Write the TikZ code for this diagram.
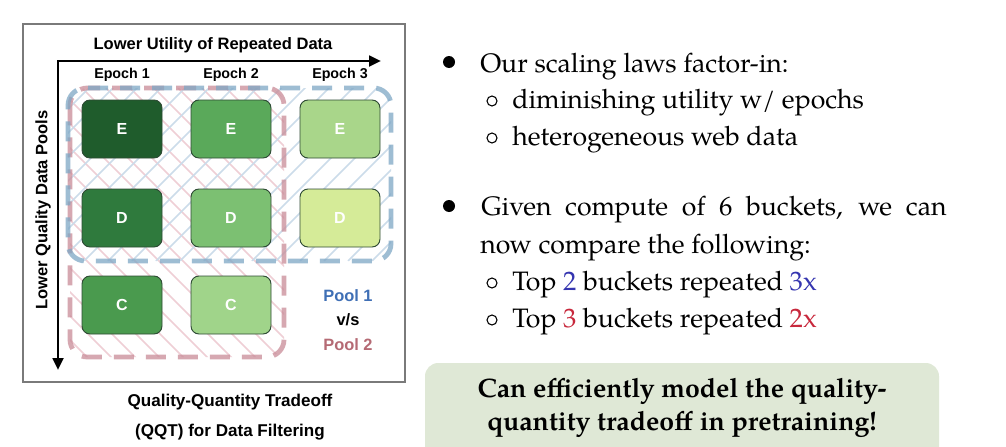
\documentclass[tikz,border=0pt]{standalone}
\usepackage{fontspec}
\setsansfont{Liberation Sans}
\newfontfamily\palfont{TeX Gyre Pagella}
\usetikzlibrary{arrows.meta}

\definecolor{eone}{HTML}{1F5C2C}
\definecolor{etwo}{HTML}{5AA95A}
\definecolor{ethree}{HTML}{A9D68A}
\definecolor{done}{HTML}{2F7A3D}
\definecolor{dtwo}{HTML}{7CC072}
\definecolor{dthree}{HTML}{D5EB98}
\definecolor{cone}{HTML}{4A9A4E}
\definecolor{ctwo}{HTML}{A0D48A}
\definecolor{cellline}{HTML}{2E4A34}
\definecolor{poolblue}{HTML}{7EA7C5}
\definecolor{poolpink}{HTML}{C98C98}
\definecolor{hatchblue}{HTML}{CCDCEA}
\definecolor{hatchpinkc}{HTML}{EFCFD5}
\definecolor{labelblue}{HTML}{3F6FB5}
\definecolor{labelpink}{HTML}{B56A74}
\definecolor{txtblue}{HTML}{3535B0}
\definecolor{txtred}{HTML}{C8283C}
\definecolor{sage}{HTML}{DFE8D6}
\definecolor{framegray}{HTML}{7A7A7A}

\tikzset{
  cell/.style={draw=cellline, line width=0.7pt, rounded corners=6pt,
    minimum width=60pt, minimum height=43.5pt, inner sep=0pt, text=white,
    font=\sffamily\bfseries\fontsize{12}{14}\selectfont},
  pooldash/.style={line width=3.6pt, rounded corners=13pt, opacity=0.75,
    dash pattern=on 15pt off 9pt},
  hatchp/.style={draw=hatchpinkc, line width=1.1pt},
  hatchb/.style={draw=hatchblue, line width=1.1pt},
  axislbl/.style={font=\sffamily\bfseries\fontsize{12.4}{14}\selectfont},
  epochlbl/.style={font=\sffamily\bfseries\fontsize{10.7}{12}\selectfont},
  poollbl/.style={font=\sffamily\bfseries\fontsize{12.3}{14}\selectfont},
  caption/.style={font=\sffamily\bfseries\fontsize{12.8}{15}\selectfont},
  body/.style={anchor=base west, inner sep=0pt,
    font=\palfont\fontsize{20}{24}\selectfont},
  bodybold/.style={inner sep=0pt, align=center,
    font=\palfont\bfseries\fontsize{20}{25}\selectfont},
  bigdot/.style={circle, fill=black, minimum size=9pt, inner sep=0pt},
  smalldot/.style={circle, draw=black, line width=0.8pt, minimum size=7.5pt, inner sep=0pt},
  axisline/.style={line width=2pt, {Triangle[length=9pt,width=8pt]}-{Triangle[length=9pt,width=8pt]}}
}

\begin{document}
\begin{tikzpicture}[x=0.75pt, y=-0.75pt]
\useasboundingbox (0,0) rectangle (1006,446);
\fill[white] (0,0) rectangle (1006,446);

% ---- left panel frame
\draw[framegray, line width=0.8pt] (23,24) rectangle (405,382);

% ---- hatching of the two pools
\begin{scope}
  \clip[rounded corners=13pt] (70,88) rectangle (284,357);
  \foreach \i in {-300,-276,...,240}
    \draw[hatchp] (70+\i,88) -- ++(300,300);
\end{scope}
\begin{scope}
  \clip[rounded corners=13pt] (68,88) rectangle (391,261);
  \foreach \i in {-200,-176,...,340}
    \draw[hatchb] (68+\i,261) -- ++(200,-200);
\end{scope}

% ---- pool outlines
\draw[pooldash, draw=poolpink] (70,88) rectangle (284,357);
\draw[pooldash, draw=poolblue, dash phase=12pt] (68,88) rectangle (391,261);

% ---- data buckets
\node[cell, fill=eone]   (e1) at (122,129) {E};
\node[cell, fill=etwo]   (e2) at (231,129) {E};
\node[cell, fill=ethree] (e3) at (340,129) {E};
\node[cell, fill=done]   (d1) at (122,218) {D};
\node[cell, fill=dtwo]   (d2) at (231,218) {D};
\node[cell, fill=dthree] (d3) at (340,218) {D};
\node[cell, fill=cone]   (c1) at (122,305) {C};
\node[cell, fill=ctwo]   (c2) at (231,305) {C};

% ---- axes
\coordinate (origin) at (58,61);
\coordinate (xend) at (381,61);
\coordinate (yend) at (58,370);
\draw[axisline] (xend) -- (origin) -- (yend);

\node[axislbl] (xlabel) at (213,45) {Lower Utility of Repeated Data};
\node[axislbl, rotate=90] (ylabel) at (43,210) {Lower Quality Data Pools};
\node[epochlbl] (ep1) at (122,75) {Epoch 1};
\node[epochlbl] (ep2) at (231,75) {Epoch 2};
\node[epochlbl] (ep3) at (340,75) {Epoch 3};

% ---- legend
\node[poollbl, text=labelblue] (p1) at (348,296) {Pool 1};
\node[poollbl] (vs) at (348,320) {v/s};
\node[poollbl, text=labelpink] (p2) at (348,345) {Pool 2};

% ---- caption
\node[caption] (cap1) at (230,402) {Quality-Quantity Tradeoff};
\node[caption] (cap2) at (230,432) {(QQT) for Data Filtering};

% ---- bullet list
\node[bigdot] (b1) at (449,62) {};
\node[body] (t1) at (480,72) {Our scaling laws factor-in:};
\node[smalldot] (s1) at (492,101) {};
\node[body] (t2) at (512,108) {diminishing utility w/ epochs};
\node[smalldot] (s2) at (492,138) {};
\node[body] (t3) at (512,145) {heterogeneous web data};

\node[bigdot] (b2) at (449,206) {};
\node[body] (t4) at (481,215) {\hbox to 349pt{Given compute of 6 buckets, we can}};
\node[body] (t5) at (480,253) {now compare the following:};
\node[smalldot] (s3) at (492,283) {};
\node[body] (t6) at (512,290) {Top \textcolor{txtblue}{2} buckets repeated \textcolor{txtblue}{3x}};
\node[smalldot] (s4) at (492,320) {};
\node[body] (t7) at (512,327) {Top \textcolor{txtred}{3} buckets repeated \textcolor{txtred}{2x}};

% ---- takeaway box
\fill[sage, rounded corners=10pt] (425,363) rectangle (939,470);
\node[bodybold] (take) at (682,408) {Can efficiently model the quality-\\quantity tradeoff in pretraining!};
\end{tikzpicture}
\end{document}
